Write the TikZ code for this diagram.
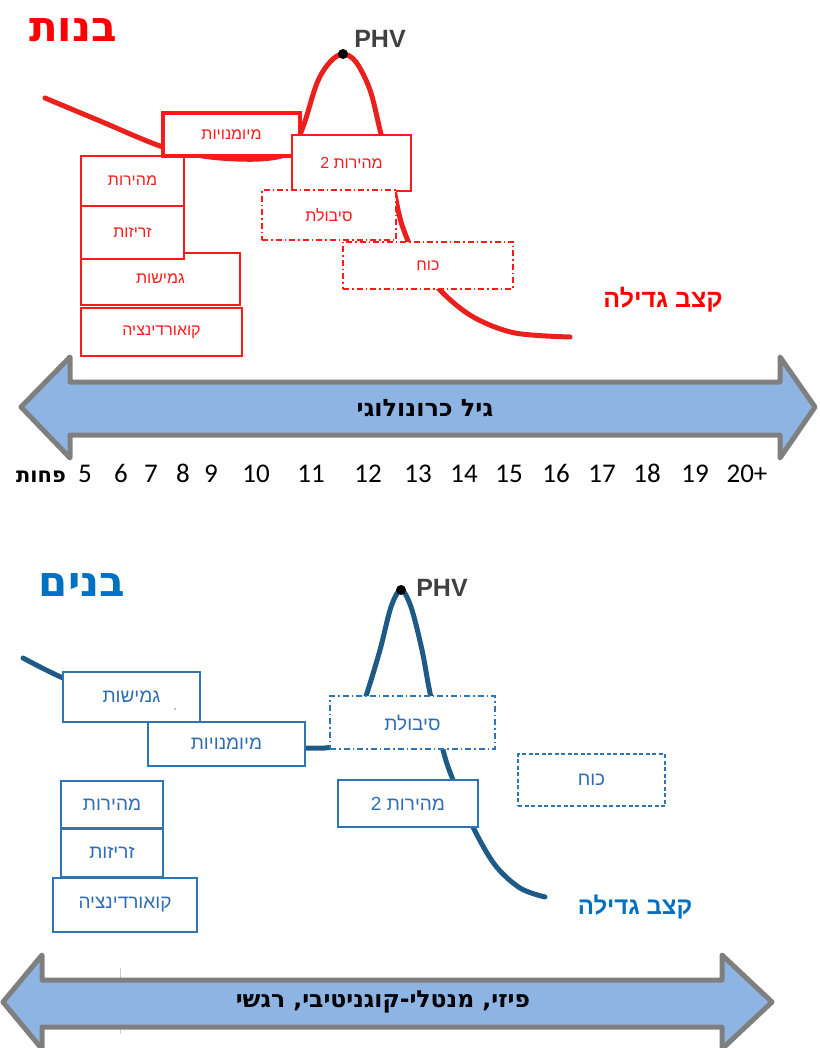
\documentclass[tikz,border=0pt]{standalone}
\usepackage{fontspec}
\setmainfont{Liberation Sans}
\newfontfamily\heb[Script=Hebrew]{Liberation Sans}
\newfontfamily\hebd[Script=Hebrew]{DejaVu Sans}
\newfontfamily\numf[Numbers=Lining]{Carlito}
\TeXXeTstate=1
\newcommand\hebt[1]{{\heb\beginR #1\endR}}
\newcommand\hebdt[1]{{\hebd\bfseries\beginR #1\endR}}
\definecolor{redc}{HTML}{FF1A1A}
\definecolor{curvered}{HTML}{E8211D}
\definecolor{bluebox}{HTML}{2E75B6}
\definecolor{bluetext}{HTML}{2E6DB4}
\definecolor{bluetitle}{HTML}{0070C0}
\definecolor{curveblue}{HTML}{1F5A87}
\definecolor{arrfill}{HTML}{8EB4E3}
\definecolor{arrline}{HTML}{7F7F7F}
\definecolor{phvc}{HTML}{404040}
\tikzset{
  rbox/.style={draw=redc, line width=1.3pt, fill=white, text=redc, font=\fontsize{16}{18}\selectfont, inner sep=0pt},
  bbox/.style={draw=bluebox, line width=1.5pt, fill=white, text=bluetext, font=\fontsize{19}{21}\selectfont, inner sep=0pt},
  ddot/.style={dash pattern=on 6pt off 3pt on 1.5pt off 3pt},
  dsh/.style={dash pattern=on 4pt off 2.5pt},
  bigarrow/.style={draw=arrline, line width=5pt, fill=arrfill, line join=round},
  title/.style={font=\fontsize{42}{46}\selectfont},
  rate/.style={font=\bfseries\fontsize{25}{27}\selectfont},
  phv/.style={font=\bfseries\fontsize{25}{27}\selectfont, text=phvc},
  age/.style={font=\numf\fontsize{27}{29}\selectfont, text=black, anchor=base, inner sep=0pt},
}
\begin{document}
\begin{tikzpicture}[x=1pt,y=-1pt]
\useasboundingbox (0,0) rectangle (819,1048);
% ---------- girls ----------
\node[title, text=red] (tgirls) at (73,30) {\hebdt{בנות}};
\draw[curvered, line width=5pt, line cap=round] plot[smooth, tension=0.55] coordinates {
 (45,98) (100,121) (163,147) (210,157) (260,159) (290,152) (303,127) (317,83) (330,62) (343,54)
 (356,62) (370,90) (380,130) (392,180) (402,225) (420,265) (445,295) (475,318) (515,333) (570,337)};
\fill[black] (343,54) circle (5);
\node[phv] (phvg) at (380,39) {PHV};
% left column
\node[rbox, minimum width=103, minimum height=50] (gmeh) at (132.5,181) {\hebt{מהירות}};
\node[rbox, minimum width=159, minimum height=52] (ggmi) at (160.5,279) {\hebt{גמישות}};
\node[rbox, minimum width=103, minimum height=53] (gzri) at (132.5,232.5) {\hebt{זריזות}};
\node[rbox, minimum width=161, minimum height=48] (gkoord) at (161.5,332) {\hebt{קואורדינציה}};
\node[rbox, line width=3.5pt, minimum width=137, minimum height=43] (gmio) at (231.5,134.5) {\hebt{מיומנויות}};
\node[rbox, minimum width=119, minimum height=56] (gmeh2) at (351.5,163) {\hebt{מהירות 2}};
\node[rbox, ddot, minimum width=134, minimum height=50] (gsib) at (329,215) {\hebt{סיבולת}};
\node[rbox, ddot, minimum width=170, minimum height=47] (gkoach) at (428,265.5) {\hebt{כוח}};
\node[rate, text=red] (grate) at (663,300) {\hebt{קצב גדילה}};
% top arrow
\draw[bigarrow] (21,407) -- (70,357) -- (70,382) -- (780,382) -- (780,357) -- (815,407) -- (780,458) -- (780,435) -- (70,435) -- (70,458) -- cycle;
\node[font=\fontsize{24}{26}\selectfont] (agel) at (425,408) {\hebdt{גיל כרונולוגי}};
% ages
\node[font=\fontsize{21}{23}\selectfont, anchor=base, inner sep=0pt] (less) at (41,482) {\hebdt{פחות}};
\foreach \n/\xx in {5/85,6/121,7/151,8/183,9/211,10/256,11/311,12/368,13/418,14/464,15/509,16/556,17/602,18/647,19/695,20+/747}{
  \node[age] (age\n) at (\xx,482) {\n};
}
% ---------- boys ----------
\node[title, text=bluetitle] (tboys) at (82,585) {\hebdt{בנים}};
\draw[curveblue, line width=5pt, line cap=round] plot[smooth, tension=0.55] coordinates {
 (23,658) (63,678) (130,705) (200,735) (260,746) (305,748) (335,746) (355,728) (367,693) (380,650) (391,607) (401,590)
 (411,607) (422,650) (430,693) (443,750) (453,780) (473,827) (495,865) (520,888) (545,897)};
\fill[black] (401,590) circle (5);
\node[phv] (phvb) at (442,588) {PHV};
\node[bbox, minimum width=137, minimum height=50] (bgmi) at (131.5,697) {\hebt{גמישות}};
\fill[gray] (175,709) circle (0.8);
\node[bbox, minimum width=157, minimum height=44] (bmio) at (226.5,744) {\hebt{מיומנויות}};
\node[bbox, ddot, minimum width=165, minimum height=53] (bsib) at (412.5,722.5) {\hebt{סיבולת}};
\node[bbox, dsh, minimum width=147, minimum height=52] (bkoach) at (591.5,780) {\hebt{כוח}};
\node[bbox, minimum width=140, minimum height=47] (bmeh2) at (408,803.5) {\hebt{מהירות 2}};
\node[bbox, minimum width=102, minimum height=47] (bmeh) at (112,804.5) {\hebt{מהירות}};
\node[bbox, minimum width=102, minimum height=48] (bzri) at (112,853) {\hebt{זריזות}};
\node[bbox, minimum width=144, minimum height=54] (bkoord) at (125,905) {\hebt{קואורדינציה}};
\node[text=bluetitle, font=\bfseries\fontsize{24}{26}\selectfont] (brate) at (635,907) {\hebt{קצב גדילה}};
% bottom arrow
\draw[gray!40, line width=1pt] (120,968) -- (120,1034);
\draw[bigarrow] (3,1002) -- (42,955) -- (42,980) -- (722,980) -- (722,955) -- (772,1002) -- (722,1049) -- (722,1027) -- (42,1027) -- (42,1049) -- cycle;
\node[font=\fontsize{23.5}{25}\selectfont] (adev) at (383,1002) {\hebdt{פיזי, מנטלי-קוגניטיבי, רגשי}};
\end{tikzpicture}
\end{document}
